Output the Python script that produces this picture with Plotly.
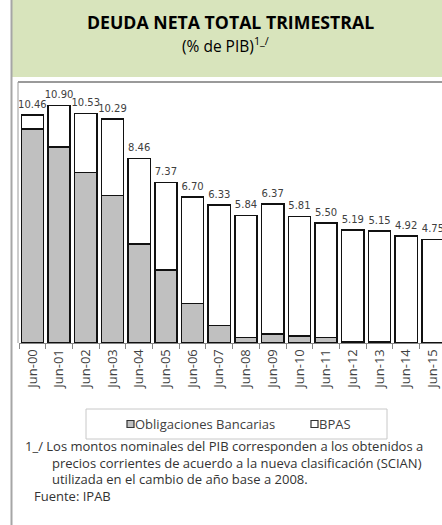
import plotly.graph_objects as go

W, H = 442, 525

categories = ["Jun-00", "Jun-01", "Jun-02", "Jun-03", "Jun-04", "Jun-05", "Jun-06", "Jun-07",
              "Jun-08", "Jun-09", "Jun-10", "Jun-11", "Jun-12", "Jun-13", "Jun-14", "Jun-15"]
totals = [10.46, 10.90, 10.53, 10.29, 8.46, 7.37, 6.70, 6.33, 5.84, 6.37, 5.81, 5.50, 5.19, 5.15, 4.92, 4.75]
obligaciones = [9.83, 9.00, 7.82, 6.76, 4.55, 3.35, 1.82, 0.81, 0.26, 0.41, 0.32, 0.26, 0.07, 0.04, 0.00, 0.00]
bpas = [0.63, 1.90, 2.71, 3.53, 3.91, 4.02, 4.88, 5.52, 5.58, 5.96, 5.49, 5.24, 5.12, 5.11, 4.92, 4.75]

footnote = [
    "1_/ Los montos nominales del PIB corresponden a los obtenidos a",
    "precios corrientes de acuerdo a la nueva clasificación (SCIAN)",
    "utilizada en el cambio de año base a 2008.",
    "Fuente: IPAB",
]


def px(x):
    return x / W


def py(y):
    return 1 - y / H


GRAY = "#c0c0c0"
EDGE = "#111111"
TXT = "#404040"

fig = go.Figure()
fig.add_trace(go.Bar(x=categories, y=obligaciones, name="Obligaciones Bancarias",
                     marker=dict(color=GRAY, line=dict(color=EDGE, width=1.5)), showlegend=False))
fig.add_trace(go.Bar(x=categories, y=bpas, name="BPAS",
                     marker=dict(color="white", line=dict(color=EDGE, width=1.5)), showlegend=False))
fig.add_trace(go.Scatter(x=categories, y=totals, mode="markers+text",
                         marker=dict(size=6, color="rgba(0,0,0,0)"),
                         text=[f"{v:.2f}" for v in totals], textposition="top center",
                         textfont=dict(family="DejaVu Sans", size=10, color=TXT),
                         showlegend=False, hoverinfo="skip"))

shapes = []
# green title box
shapes.append(dict(type="rect", xref="paper", yref="paper", x0=px(11), x1=px(442), y0=py(77), y1=py(0),
                   fillcolor="#d8e4bc", line=dict(width=0), layer="below"))
# outer left line
shapes.append(dict(type="line", xref="paper", yref="paper", x0=px(11.5), x1=px(11.5), y0=py(0), y1=py(525),
                   line=dict(color="#a6a6a6", width=2)))
# chart box top and left
shapes.append(dict(type="line", xref="paper", yref="paper", x0=px(18), x1=px(442), y0=py(82), y1=py(82),
                   line=dict(color="#9a9a9a", width=2)))
shapes.append(dict(type="line", xref="paper", yref="paper", x0=px(18), x1=px(18), y0=py(82), y1=py(343),
                   line=dict(color="#9a9a9a", width=1)))
# legend box
shapes.append(dict(type="rect", xref="paper", yref="paper", x0=px(86), x1=px(387), y0=py(439), y1=py(409),
                   line=dict(color="#c8c8c8", width=1), fillcolor="rgba(0,0,0,0)"))
shapes.append(dict(type="rect", xref="paper", yref="paper", x0=px(127), x1=px(134), y0=py(427.5), y1=py(420.5),
                   line=dict(color="#333333", width=1.2), fillcolor=GRAY))
shapes.append(dict(type="rect", xref="paper", yref="paper", x0=px(311), x1=px(318), y0=py(427.5), y1=py(420.5),
                   line=dict(color="#333333", width=1.2), fillcolor="white"))

ann = []
ann.append(dict(text="<b>DEUDA NETA TOTAL TRIMESTRAL</b>", x=px(230), y=py(22), xref="paper", yref="paper",
                showarrow=False, xanchor="center", yanchor="middle",
                font=dict(family="Open Sans", size=17.7, color="#000000")))
ann.append(dict(text="(% de PIB)<sup>1_/</sup>", x=px(226), y=py(45), xref="paper", yref="paper",
                showarrow=False, xanchor="center", yanchor="middle",
                font=dict(family="Open Sans", size=15.5, color="#000000")))
ann.append(dict(text="Obligaciones Bancarias", x=px(134.5), y=py(424), xref="paper", yref="paper",
                showarrow=False, xanchor="left", yanchor="middle", xshift=-2,
                font=dict(family="Open Sans", size=13, color=TXT)))
ann.append(dict(text="BPAS", x=px(318.5), y=py(424), xref="paper", yref="paper",
                showarrow=False, xanchor="left", yanchor="middle", xshift=-2,
                font=dict(family="Open Sans", size=13, color=TXT)))
foot_pos = [(25, 446), (51.5, 462.5), (51.5, 479), (34, 496)]
for line, (fx, fy) in zip(footnote, foot_pos):
    ann.append(dict(text=line, x=px(fx), y=py(fy), xref="paper", yref="paper",
                    showarrow=False, xanchor="left", yanchor="middle", xshift=-2,
                    font=dict(family="Open Sans", size=13, color="#333333")))

fig.update_layout(
    width=W, height=H,
    margin=dict(l=0, r=0, t=0, b=0),
    paper_bgcolor="white", plot_bgcolor="white",
    barmode="stack", bargap=0.17,
    xaxis=dict(domain=[px(19), 1], range=[-0.5, 15.34], showgrid=False, zeroline=False,
               showline=True, linecolor="#868686", linewidth=1,
               ticks="outside", tickson="boundaries", ticklen=5, tickcolor="#868686",
               tickangle=-90, ticklabeloverflow="allow",
               tickfont=dict(family="Open Sans", size=13, color=TXT)),
    yaxis=dict(domain=[py(343), py(81.5)], range=[0, 12], showgrid=False, zeroline=False,
               showline=False, showticklabels=False, ticks=""),
    shapes=shapes, annotations=ann,
    showlegend=False,
)

fig.write_html("out.html", config={"displayModeBar": False},
               post_script="document.body.style.margin='0';document.body.style.overflow='hidden';")
